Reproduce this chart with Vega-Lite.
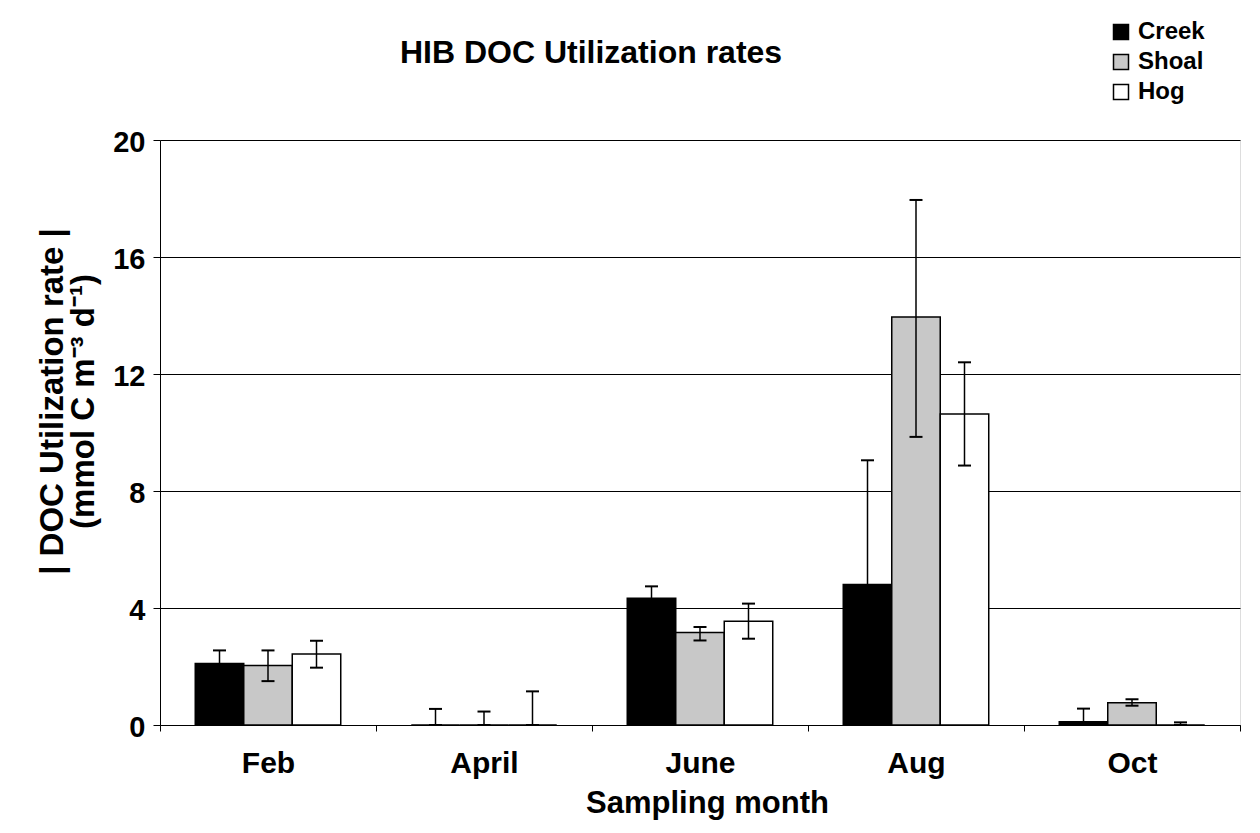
{
  "$schema": "https://vega.github.io/schema/vega-lite/v6.json",
  "width": 1080,
  "height": 585,
  "autosize": {"type": "none"},
  "padding": {"left": 160, "top": 140, "right": 20, "bottom": 108},
  "background": "white",
  "title": {
    "text": "HIB DOC Utilization rates",
    "font": "Liberation Sans",
    "fontSize": 32,
    "fontWeight": "bold",
    "color": "black",
    "anchor": "middle",
    "frame": "group",
    "baseline": "alphabetic",
    "dx": -109,
    "offset": -75
  },
  "data": {
    "values": [
      {"month": "Feb", "site": "Creek", "value": 2.1, "lo": 1.65, "hi": 2.55},
      {"month": "Feb", "site": "Shoal", "value": 2.03, "lo": 1.5, "hi": 2.55},
      {"month": "Feb", "site": "Hog", "value": 2.43, "lo": 1.96, "hi": 2.88},
      {"month": "April", "site": "Creek", "value": 0, "lo": 0, "hi": 0.55},
      {"month": "April", "site": "Shoal", "value": 0, "lo": 0, "hi": 0.46},
      {"month": "April", "site": "Hog", "value": 0, "lo": 0, "hi": 1.15},
      {"month": "June", "site": "Creek", "value": 4.33, "lo": 3.92, "hi": 4.74},
      {"month": "June", "site": "Shoal", "value": 3.16, "lo": 2.89, "hi": 3.35},
      {"month": "June", "site": "Hog", "value": 3.55, "lo": 2.95, "hi": 4.15},
      {"month": "Aug", "site": "Creek", "value": 4.8, "lo": 0.55, "hi": 9.05},
      {"month": "Aug", "site": "Shoal", "value": 13.95, "lo": 9.85, "hi": 17.95},
      {"month": "Aug", "site": "Hog", "value": 10.63, "lo": 8.87, "hi": 12.4},
      {"month": "Oct", "site": "Creek", "value": 0.11, "lo": 0, "hi": 0.56},
      {"month": "Oct", "site": "Shoal", "value": 0.76, "lo": 0.66, "hi": 0.88},
      {"month": "Oct", "site": "Hog", "value": 0, "lo": 0, "hi": 0.09}
    ]
  },
  "encoding": {
    "x": {
      "field": "month",
      "type": "nominal",
      "sort": ["Feb", "April", "June", "Aug", "Oct"],
      "scale": {"paddingInner": 0, "paddingOuter": 0},
      "axis": {
        "title": "Sampling month",
        "labelAngle": 0,
        "tickBand": "extent",
        "domainColor": "black",
        "domainWidth": 1,
        "tickColor": "black",
        "tickSize": 6,
        "labelPadding": 17,
        "labelFont": "Liberation Sans",
        "labelFontSize": 30,
        "labelFontWeight": "bold",
        "labelColor": "black",
        "titleFont": "Liberation Sans",
        "titleFontSize": 31,
        "titleFontWeight": "bold",
        "titleColor": "black",
        "titlePadding": 10,
        "titleX": 547
      }
    },
    "xOffset": {
      "field": "site",
      "type": "nominal",
      "sort": ["Creek", "Shoal", "Hog"],
      "scale": {"paddingInner": 0, "paddingOuter": 0.727}
    }
  },
  "layer": [
    {
      "mark": {"type": "bar", "stroke": "black", "strokeWidth": 1.5, "opacity": 1},
      "encoding": {
        "y": {
          "field": "value",
          "type": "quantitative",
          "stack": null,
          "scale": {"domain": [0, 20], "nice": false},
          "axis": {
            "values": [0, 4, 8, 12, 16, 20],
            "title": ["| DOC Utilization rate |", "(mmol C m⁻³ d⁻¹)"],
            "grid": true,
            "gridColor": "black",
            "gridWidth": 1,
            "domainColor": "black",
            "tickColor": "black",
            "tickSize": 7,
            "labelPadding": 8,
            "labelOffset": 2,
            "labelFont": "Liberation Sans",
            "labelFontSize": 29,
            "labelFontWeight": "bold",
            "labelColor": "black",
            "titleFont": "Liberation Sans",
            "titleFontSize": 33,
            "titleFontWeight": "bold",
            "titleColor": "black",
            "titleBaseline": "alphabetic",
            "titleX": -98,
            "titleY": 261,
            "titleLineHeight": 31
          }
        },
        "fill": {
          "field": "site",
          "type": "nominal",
          "scale": {"domain": ["Creek", "Shoal", "Hog"], "range": ["black", "#c8c8c8", "white"]},
          "legend": {
            "title": null,
            "orient": "none",
            "legendX": 949,
            "legendY": -120,
            "padding": 0,
            "symbolType": "square",
            "symbolSize": 225,
            "symbolStrokeColor": "black",
            "symbolStrokeWidth": 1.5,
            "symbolOpacity": 1,
            "labelFont": "Liberation Sans",
            "labelFontSize": 24,
            "labelFontWeight": "bold",
            "labelColor": "black",
            "labelOffset": 5,
            "rowPadding": 6
          }
        }
      }
    },
    {
      "mark": {"type": "rule", "color": "black", "strokeWidth": 1.5, "opacity": 1},
      "encoding": {
        "y": {"field": "lo", "type": "quantitative"},
        "y2": {"field": "hi"}
      }
    },
    {
      "mark": {"type": "tick", "color": "black", "thickness": 2, "size": 13, "opacity": 1},
      "encoding": {
        "y": {"field": "hi", "type": "quantitative"}
      }
    },
    {
      "mark": {"type": "tick", "color": "black", "thickness": 2, "size": 13, "opacity": 1},
      "encoding": {
        "y": {"field": "lo", "type": "quantitative"}
      }
    }
  ]
}
